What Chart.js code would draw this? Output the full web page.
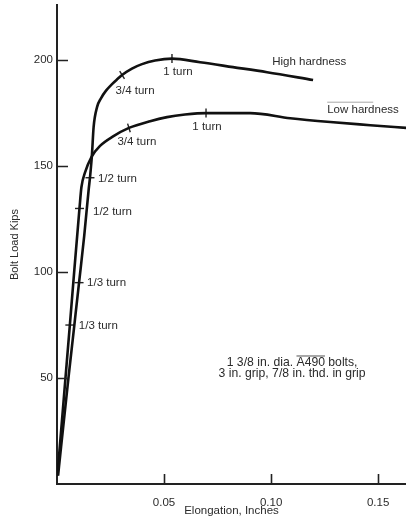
<!DOCTYPE html>
<html>
<head>
<meta charset="utf-8">
<script src="https://cdn.jsdelivr.net/npm/chart.js@4.4.1/dist/chart.umd.min.js"></script>
<style>
  html, body { margin: 0; padding: 0; background: #fff; }
  canvas { display: block; }
</style>
</head>
<body>
<canvas id="chart" width="406" height="520"></canvas>
<script>
// Load–elongation curves for 1 3/8 in. A490 bolts (elongation in inches, load in kips)
const highElong = [0.0005, 0.0019, 0.0054, 0.0081, 0.0103, 0.0127, 0.0148, 0.0154, 0.0163, 0.0171, 0.0187, 0.0206, 0.0229, 0.0257, 0.0285, 0.0304, 0.0350, 0.0397, 0.0458, 0.0537, 0.0668, 0.0822, 0.0981, 0.1196];
const highLoad  = [4, 17.5, 50.5, 75, 95, 117, 139, 144.5, 155, 168.4, 177.8, 182.1, 185.6, 188.7, 191.3, 193.0, 196.0, 198.1, 199.8, 200.7, 199, 196.7, 194.3, 190.6];

const lowElong = [0.0002, 0.0013, 0.0040, 0.0060, 0.0081, 0.0105, 0.0114, 0.0131, 0.0162, 0.0201, 0.0262, 0.0336, 0.0435, 0.0514, 0.0598, 0.0696, 0.0902, 0.1089, 0.1276, 0.1463, 0.1631];
const lowLoad  = [4, 17.5, 50.5, 75, 101, 130, 140, 147, 154.5, 159.5, 164, 168, 171.2, 173.1, 174.3, 175, 175, 172.6, 170.8, 169.3, 168];

// Turn-of-nut marks along each curve
const turnNames = ['1/3 turn', '1/2 turn', '3/4 turn', '1 turn'];
const highTurnElong = [0.0103, 0.0154, 0.0304, 0.0537];
const highTurnLoad  = [95, 144.5, 193.0, 200.7];
const lowTurnElong  = [0.0060, 0.0105, 0.0336, 0.0696];
const lowTurnLoad   = [75, 130, 168, 175];

const seriesNames = ['High hardness', 'Low hardness'];
const noteLines = ['1 3/8 in. dia. A490 bolts,', '3 in. grip, 7/8 in. thd. in grip'];

const xTicks = [0.05, 0.10, 0.15];
const yTicks = [50, 100, 150, 200];

const FONT = '"Liberation Sans", Arial, sans-serif';
const INK = '#2b2b2b';

const pts = (xs, ys) => xs.map((x, i) => ({ x, y: ys[i] }));

// marker tilt (deg) and label placement relative to each mark
const markRot   = { high: [0, 0, 58, 90], low: [0, 0, 73, 90] };
const labelPos = {
  high: [[8, 0, 'left'], [8, 1, 'left'], [13, 16, 'center'], [6, 13.5, 'center']],
  low:  [[9, 1, 'left'], [13.5, 3, 'left'], [8, 14, 'center'], [1, 14, 'center']]
};

const decorations = {
  id: 'decorations',
  afterDraw(chart) {
    const { ctx, scales: { x, y } } = chart;
    ctx.save();
    // inward tick marks
    ctx.strokeStyle = '#222';
    ctx.lineWidth = 1.6;
    const left = x.left, bottom = y.bottom;
    ctx.beginPath();
    yTicks.forEach(v => {
      const py = Math.round(y.getPixelForValue(v)) + 0.5;
      ctx.moveTo(left, py); ctx.lineTo(left + 11, py);
    });
    xTicks.forEach(v => {
      const px = Math.round(x.getPixelForValue(v)) + 0.5;
      ctx.moveTo(px, bottom); ctx.lineTo(px, bottom - 10);
    });
    ctx.stroke();

    ctx.fillStyle = INK;
    ctx.font = '11.5px ' + FONT;
    ctx.textBaseline = 'middle';
    const drawTurns = (key, xs, ys) => {
      xs.forEach((v, i) => {
        const [dx, dy, align] = labelPos[key][i];
        ctx.textAlign = align;
        ctx.fillText(turnNames[i], x.getPixelForValue(v) + dx, y.getPixelForValue(ys[i]) + dy);
      });
    };
    drawTurns('high', highTurnElong, highTurnLoad);
    drawTurns('low', lowTurnElong, lowTurnLoad);

    // curve names
    ctx.textAlign = 'left';
    const hx = x.getPixelForValue(0.1005), hy = y.getPixelForValue(199);
    ctx.fillText(seriesNames[0], hx, hy);
    const lx = x.getPixelForValue(0.1262), ly = y.getPixelForValue(176.6);
    ctx.fillText(seriesNames[1], lx, ly);
    ctx.strokeStyle = 'rgba(60,60,60,0.45)';
    ctx.lineWidth = 1;
    ctx.beginPath();
    ctx.moveTo(lx, ly - 7.5); ctx.lineTo(lx + 46, ly - 7.5);
    ctx.stroke();

    // specimen note
    ctx.font = '12.2px ' + FONT;
    ctx.textAlign = 'center';
    const nx = x.getPixelForValue(0.1098);
    const ny = y.getPixelForValue(54.5);
    ctx.fillText(noteLines[0], nx, ny - 5.5);
    ctx.fillText(noteLines[1], nx, ny + 5.5);
    // overbar on the grade designation
    const full = ctx.measureText(noteLines[0]).width;
    const pre = ctx.measureText('1 3/8 in. dia. ').width;
    const grade = ctx.measureText('A490').width;
    const sx = nx - full / 2 + pre;
    ctx.strokeStyle = 'rgba(40,40,40,0.8)';
    ctx.beginPath();
    ctx.moveTo(sx, ny - 12.5); ctx.lineTo(sx + grade, ny - 12.5);
    ctx.stroke();
    ctx.restore();
  }
};

const lineStyle = {
  borderColor: '#111',
  borderWidth: 2.6,
  pointRadius: 0,
  fill: false,
  cubicInterpolationMode: 'monotone'
};

const markStyle = {
  showLine: false,
  pointStyle: 'line',
  pointRadius: 4.5,
  pointBorderWidth: 1.4,
  pointBorderColor: '#222',
  pointBackgroundColor: '#222'
};

new Chart(document.getElementById('chart'), {
  type: 'line',
  data: {
    datasets: [
      { label: seriesNames[0], data: pts(highElong, highLoad), ...lineStyle },
      { label: seriesNames[1], data: pts(lowElong, lowLoad), ...lineStyle },
      { label: 'high marks', data: pts(highTurnElong, highTurnLoad), ...markStyle, pointRotation: markRot.high },
      { label: 'low marks', data: pts(lowTurnElong, lowTurnLoad), ...markStyle, pointRotation: markRot.low }
    ]
  },
  options: {
    responsive: false,
    animation: false,
    devicePixelRatio: 1,
    layout: { autoPadding: false, padding: { top: 5, right: 0, left: 0, bottom: 0 } },
    plugins: { legend: { display: false }, tooltip: { enabled: false } },
    scales: {
      x: {
        type: 'linear',
        min: 0,
        max: 0.163,
        grid: { display: false, drawTicks: false },
        border: { display: true, color: '#222', width: 2 },
        afterBuildTicks: s => { s.ticks = xTicks.map(v => ({ value: v })); },
        afterFit: s => { s.height = 36; s.paddingLeft = 0; s.paddingRight = 0; },
        ticks: {
          padding: 12,
          color: INK,
          font: { family: FONT, size: 11.5 },
          maxRotation: 0,
          callback: v => Number(v).toFixed(2)
        },
        title: {
          display: true,
          text: 'Elongation, Inches',
          color: INK,
          font: { family: FONT, size: 11.5 },
          padding: { top: 0, bottom: 2 }
        }
      },
      y: {
        type: 'linear',
        min: 0,
        max: 226,
        grid: { display: false, drawTicks: false },
        border: { display: true, color: '#222', width: 2 },
        afterBuildTicks: s => { s.ticks = yTicks.map(v => ({ value: v })); },
        afterFit: s => { s.width = 57; s.paddingTop = 0; s.paddingBottom = 0; },
        ticks: {
          padding: 4,
          color: INK,
          font: { family: FONT, size: 11.5 },
          callback: v => String(v)
        },
        title: {
          display: true,
          text: 'Bolt Load Kips',
          color: INK,
          font: { family: FONT, size: 11 },
          padding: { top: 8, bottom: 0 }
        }
      }
    }
  },
  plugins: [decorations]
});
</script>
</body>
</html>
